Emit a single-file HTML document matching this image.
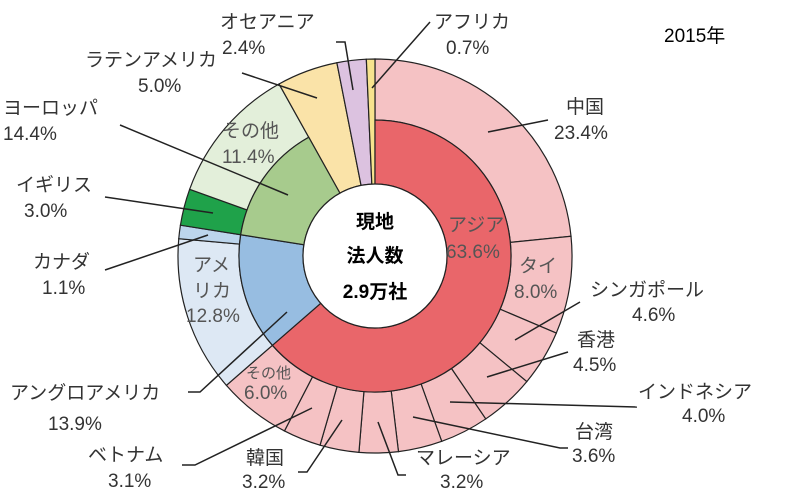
<!DOCTYPE html>
<html><head><meta charset="utf-8"><style>
html,body{margin:0;padding:0;background:#fff;}
svg{display:block;font-family:"Liberation Sans","Noto Sans CJK JP",sans-serif;}
.l{font-size:19px;fill:#333;}
.c{font-size:19px;fill:#000;font-weight:bold;}
.in{font-size:19px;fill:#555;}
</style></head><body>
<svg id="s" width="800" height="499" viewBox="0 0 800 499" xmlns="http://www.w3.org/2000/svg">
<g id="w"></g>
<circle cx="375" cy="256" r="72" fill="#fff" stroke="#222" stroke-width="1.2"/>
<g stroke="#222" stroke-width="1.5" fill="none">
<polyline points="488,132 548,120"/>
<polyline points="372,88 430,22"/>
<polyline points="353,90 345,42 336,42"/>
<polyline points="317,98 242,73"/>
<polyline points="288,195 120,125"/>
<polyline points="213,213 105,197"/>
<polyline points="208,235 105,270"/>
<polyline points="287,312 200,392 188,392"/>
<polyline points="312,408 195,465 182,465"/>
<polyline points="342,420 307,472 298,472"/>
<polyline points="378,422 398,475 406,475"/>
<polyline points="413,417 560,448 568,448"/>
<polyline points="450,402 637,407"/>
<polyline points="487,377 568,352"/>
<polyline points="515,340 580,302"/>
</g>
<text x="664" y="42" class="c" style="font-weight:normal">2015年</text>
<text x="434" y="28" class="l">アフリカ</text><text x="446" y="54" class="l">0.7%</text>
<text x="220" y="28" class="l">オセアニア</text><text x="222" y="54" class="l">2.4%</text>
<text x="85" y="66" class="l">ラテンアメリカ</text><text x="138" y="92" class="l">5.0%</text>
<text x="3" y="114" class="l">ヨーロッパ</text><text x="3" y="140" class="l">14.4%</text>
<text x="16" y="191" class="l">イギリス</text><text x="24" y="217" class="l">3.0%</text>
<text x="33" y="268" class="l">カナダ</text><text x="42" y="294" class="l">1.1%</text>
<text x="10" y="399" class="l">アングロアメリカ</text><text x="48" y="430" class="l">13.9%</text>
<text x="88" y="461" class="l">ベトナム</text><text x="108" y="487" class="l">3.1%</text>
<text x="246" y="464" class="l">韓国</text><text x="242" y="488" class="l">3.2%</text>
<text x="416" y="464" class="l">マレーシア</text><text x="440" y="488" class="l">3.2%</text>
<text x="575" y="438" class="l">台湾</text><text x="572" y="462" class="l">3.6%</text>
<text x="638" y="398" class="l">インドネシア</text><text x="682" y="422" class="l">4.0%</text>
<text x="577" y="346" class="l">香港</text><text x="573" y="371" class="l">4.5%</text>
<text x="590" y="296" class="l">シンガポール</text><text x="632" y="321" class="l">4.6%</text>
<text x="566" y="113" class="l">中国</text><text x="554" y="139" class="l">23.4%</text>
<text x="448" y="231" class="in">アジア</text><text x="446" y="258" class="in">63.6%</text>
<text x="519" y="272" class="in">タイ</text><text x="514" y="298" class="in">8.0%</text>
<text x="193" y="271" class="in">アメ</text><text x="193" y="297" class="in">リカ</text><text x="186" y="322" class="in">12.8%</text>
<text x="222" y="137" class="in">その他</text><text x="222" y="163" class="in">11.4%</text>
<text x="246" y="378" class="in" style="font-size:15px">その他</text><text x="244" y="399" class="in">6.0%</text>
<text x="375" y="228" class="c" text-anchor="middle">現地</text>
<text x="375" y="262" class="c" text-anchor="middle">法人数</text>
<text x="375" y="298" class="c" text-anchor="middle">2.9万社</text>
</svg>
<script>
var cx=375,cy=256;
function pt(r,a){a=a*2*Math.PI/100;return [cx+r*Math.sin(a),cy-r*Math.cos(a)];}
function wedge(r0,r1,a0,a1,col){
var p0=pt(r1,a0),p1=pt(r1,a1),p2=pt(r0,a1),p3=pt(r0,a0),lg=(a1-a0)>50?1:0;
return '<path d="M'+p0+' A'+r1+','+r1+' 0 '+lg+' 1 '+p1+' L'+p2+' A'+r0+','+r0+' 0 '+lg+' 0 '+p3+' Z" fill="'+col+'" stroke="#222" stroke-width="1.2"/>';}
var outer=[[23.4,'#f5c2c4'],[8.0,'#f5c2c4'],[4.6,'#f5c2c4'],[4.5,'#f5c2c4'],[4.0,'#f5c2c4'],[3.6,'#f5c2c4'],[3.2,'#f5c2c4'],[3.2,'#f5c2c4'],[3.1,'#f5c2c4'],[6.0,'#f5c2c4'],[12.8,'#dde8f4'],[1.1,'#bcd5ec'],[3.0,'#1fa24a'],[11.4,'#e3efda'],[5.0,'#fae3a8'],[2.4,'#dcc2e0'],[0.7,'#f7e38e']];
var inner=[[63.6,'#e9666a'],[13.9,'#97bde1'],[14.4,'#a7cb8d']];
var h='',a=0;
outer.forEach(function(o,i){h+=wedge(i>=14?72:136,197,a,a+o[0],o[1]);a+=o[0];});
a=0;
inner.forEach(function(o){h+=wedge(72,136,a,a+o[0],o[1]);a+=o[0];});
document.getElementById('w').innerHTML=h;
</script>
</body></html>
